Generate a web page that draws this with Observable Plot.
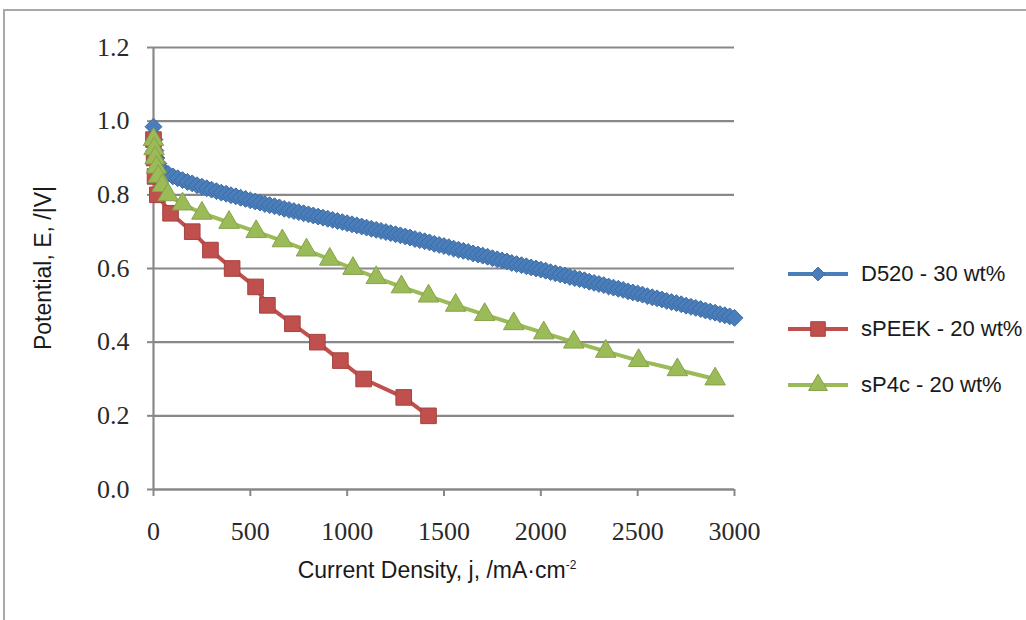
<!DOCTYPE html>
<html>
<head>
<meta charset="utf-8">
<script src="https://cdn.jsdelivr.net/npm/d3@7"></script>
<script src="https://cdn.jsdelivr.net/npm/@observablehq/plot@0.6"></script>
<style>
  html, body { margin: 0; padding: 0; background: #fff; overflow: hidden; }
  #wrap { position: relative; width: 1026px; height: 620px; overflow: hidden; }
  #frame { position: absolute; left: 3px; top: 9px; width: 1040px; height: 640px; border: 2px solid #a8a8a8; box-sizing: border-box; }
  #chart { position: absolute; left: 0; top: 0; }
  .title { position: absolute; font-family: "Liberation Sans", Arial, sans-serif; font-size: 23px; color: #1a1a1a; white-space: nowrap; }
  #ytitle { left: 43px; top: 268px; transform: translate(-50%, -50%) rotate(-90deg); }
  #xtitle { left: 437px; top: 570px; transform: translate(-50%, -50%); }
  #legend { position: absolute; left: 786px; top: 246px; font-family: "Liberation Sans", Arial, sans-serif; font-size: 22px; color: #1a1a1a; }
  .item { display: flex; align-items: center; height: 55.5px; white-space: nowrap; }
  .item svg { margin-right: 11px; }
</style>
</head>
<body>
<div id="wrap">
  <div id="frame"></div>
  <div id="chart"></div>
  <div class="title" id="ytitle">Potential, E, /|V|</div>
  <div class="title" id="xtitle">Current Density, j, /mA·cm<sup style="font-size:12px">-2</sup></div>
  <div id="legend"></div>
</div>
<script>
// ---- data ----
const seriesNames = ["D520 - 30 wt%", "sPEEK - 20 wt%", "sP4c - 20 wt%"];
const seriesColors = ["#4a7ebb", "#c0504d", "#9bbb59"];
const seriesStrokes = ["#3d6ba3", "#a6413e", "#86a24a"];
const seriesSymbols = ["diamond2", "square", "triangle"];

const blueJ = [0,5,10,15,25,50,75,100,125,150,175,200,225,250,275,300,325,350,375,400,425,450,475,500,525,550,575,600,625,650,675,700,725,750,775,800,825,850,875,900,925,950,975,1000,1025,1050,1075,1100,1125,1150,1175,1200,1225,1250,1275,1300,1325,1350,1375,1400,1425,1450,1475,1500,1525,1550,1575,1600,1625,1650,1675,1700,1725,1750,1775,1800,1825,1850,1875,1900,1925,1950,1975,2000,2025,2050,2075,2100,2125,2150,2175,2200,2225,2250,2275,2300,2325,2350,2375,2400,2425,2450,2475,2500,2525,2550,2575,2600,2625,2650,2675,2700,2725,2750,2775,2800,2825,2850,2875,2900,2925,2950,2975,3000];
const blueE = [0.985,0.95,0.92,0.90,0.885,0.866,0.857,0.850,0.845,0.840,0.835,0.831,0.826,0.822,0.818,0.814,0.810,0.806,0.803,0.799,0.796,0.792,0.789,0.785,0.782,0.779,0.775,0.772,0.769,0.766,0.762,0.759,0.756,0.753,0.750,0.747,0.744,0.741,0.738,0.735,0.732,0.729,0.726,0.723,0.720,0.717,0.714,0.711,0.708,0.705,0.702,0.699,0.696,0.693,0.690,0.687,0.684,0.680,0.677,0.674,0.671,0.667,0.664,0.661,0.658,0.654,0.651,0.648,0.645,0.641,0.638,0.635,0.632,0.628,0.625,0.622,0.619,0.615,0.612,0.609,0.606,0.603,0.600,0.597,0.594,0.590,0.587,0.584,0.581,0.577,0.574,0.571,0.568,0.564,0.561,0.558,0.555,0.551,0.548,0.545,0.542,0.538,0.535,0.532,0.529,0.525,0.522,0.519,0.516,0.512,0.509,0.506,0.503,0.499,0.496,0.493,0.490,0.486,0.483,0.480,0.476,0.473,0.470,0.466];

const redJ = [0,3,8,20,88,200,294,406,527,588,717,846,965,1085,1292,1420];
const redE = [0.95,0.90,0.85,0.80,0.75,0.70,0.65,0.60,0.55,0.50,0.45,0.40,0.35,0.30,0.25,0.20];

const greenJ = [0,3,8,15,25,45,75,150,250,390,530,665,790,910,1030,1150,1280,1420,1560,1710,1860,2015,2170,2335,2505,2705,2900];
const greenE = [0.95,0.925,0.90,0.875,0.85,0.825,0.80,0.775,0.75,0.725,0.70,0.675,0.65,0.625,0.60,0.575,0.55,0.525,0.50,0.475,0.45,0.425,0.40,0.375,0.35,0.325,0.30];

const xTicks = [0, 500, 1000, 1500, 2000, 2500, 3000];
const yTicks = [0, 0.2, 0.4, 0.6, 0.8, 1.0, 1.2];

// ---- build tables ----
function zip(js, es) { const n = Math.min(js.length, es.length); const out = []; for (let i = 0; i < n; i++) out.push({j: js[i], e: es[i]}); return out; }
const series = [zip(blueJ, blueE), zip(redJ, redE), zip(greenJ, greenE)];
const dotR = [7.6, 8.8, 7.6];

const gridColor = "#888888";
const marks = [
  Plot.gridY(yTicks, {stroke: gridColor, strokeOpacity: 1, strokeWidth: 2.2}),
  Plot.ruleX([0], {stroke: gridColor, strokeWidth: 2.2}),
  Plot.ruleY([0], {stroke: gridColor, strokeWidth: 2.2}),
  Plot.axisY(yTicks, {tickSize: 6, tickPadding: 18, stroke: gridColor, strokeWidth: 2, tickFormat: d3.format(".1f"),
    fontSize: 26, fontFamily: "Liberation Serif, serif", fill: "#2a2a2a", label: null}),
  Plot.axisX(xTicks, {tickSize: 7, tickPadding: 25, stroke: gridColor, strokeWidth: 2, tickFormat: d => String(d),
    fontSize: 26, fontFamily: "Liberation Serif, serif", fill: "#2a2a2a", label: null})
];
series.forEach((data, i) => {
  marks.push(Plot.line(data, {x: "j", y: "e", stroke: seriesColors[i], strokeWidth: 4}));
  marks.push(Plot.dot(data, {x: "j", y: "e", symbol: () => seriesSymbols[i], r: dotR[i], fill: seriesColors[i], stroke: seriesStrokes[i], strokeWidth: 1}));
});

const chart = Plot.plot({
  width: 1026,
  height: 620,
  marginLeft: 153,
  marginRight: 292,
  marginTop: 47,
  marginBottom: 131,
  style: {background: "transparent", overflow: "visible"},
  x: {domain: [0, 3000]},
  y: {domain: [0, 1.2]},
  symbol: {type: "identity"},
  marks
});
document.getElementById("chart").appendChild(chart);

// ---- legend ----
const legend = document.getElementById("legend");
const symbolTypes = {diamond2: d3.symbolDiamond2, square: d3.symbolSquare, triangle: d3.symbolTriangle};
const legendR = [6.2, 8.2, 7.0];
seriesNames.forEach((name, i) => {
  const item = document.createElement("div");
  item.className = "item";
  const r = legendR[i];
  const path = d3.symbol(symbolTypes[seriesSymbols[i]], r * r * Math.PI)();
  item.innerHTML = `<svg width="64" height="28" viewBox="0 0 64 28">
    <line x1="2" x2="62" y1="14" y2="14" stroke="${seriesColors[i]}" stroke-width="4"/>
    <path d="${path}" transform="translate(32,14)" fill="${seriesColors[i]}" stroke="${seriesStrokes[i]}" stroke-width="1"/>
  </svg><span>${name}</span>`;
  legend.appendChild(item);
});
</script>
</body>
</html>
